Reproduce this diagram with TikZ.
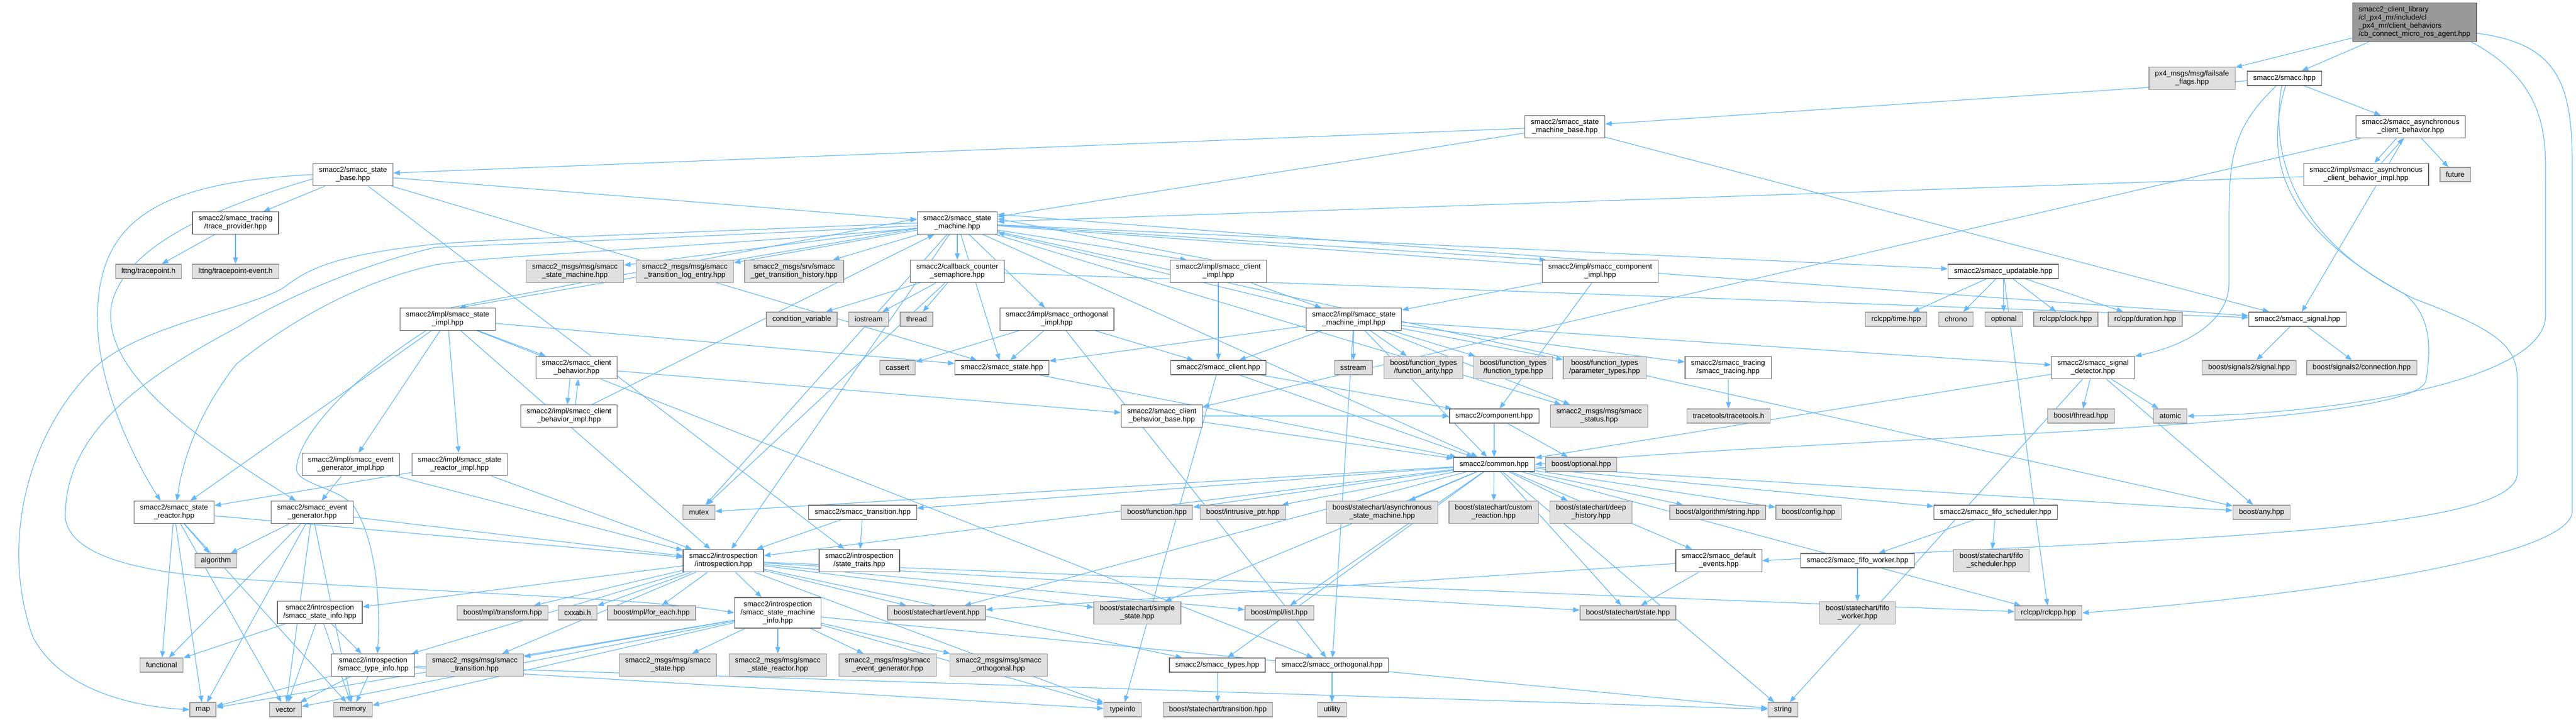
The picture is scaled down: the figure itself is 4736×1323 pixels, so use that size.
\documentclass[tikz,border=0pt]{standalone}
\usepackage{fontspec}
\setmainfont{Liberation Sans}
\usetikzlibrary{arrows.meta}
\pgfdeclarelayer{bg}
\pgfsetlayers{bg,main}
\definecolor{edgec}{HTML}{63B8FF}
\definecolor{wbord}{HTML}{666666}
\definecolor{gbord}{HTML}{999999}
\definecolor{gfill}{HTML}{E0E0E0}
\definecolor{rfill}{HTML}{999999}
\begin{document}
\begin{tikzpicture}[x=1pt,y=-1pt,
  nb/.style={draw, line width=1.3pt, inner xsep=11pt, inner ysep=0pt, align=center, font=\fontsize{13.4}{15}\selectfont},
  wn/.style={nb, fill=white, draw=wbord},
  gn/.style={nb, fill=gfill, draw=gbord},
  rn/.style={nb, fill=rfill, draw=wbord, align=left},
  l1/.style={minimum height=26pt},
  l2/.style={minimum height=41pt},
  l3/.style={minimum height=56pt},
  l4/.style={minimum height=71pt},
  e/.style={draw=edgec, line width=1.2pt, -{Triangle[length=12pt,width=9pt]}}
]
\useasboundingbox (0,0) rectangle (4736,1323);
% row 0-4
\node[rn,l4] (root) at (4439,41) {smacc2\_client\_library\\/cl\_px4\_mr/include/cl\\\_px4\_mr/client\_behaviors\\/cb\_connect\_micro\_ros\_agent.hpp};
\node[gn,l2] (px4) at (4030,144) {px4\_msgs/msg/failsafe\\\_flags.hpp};
\node[wn,l1] (smacc) at (4200,144) {smacc2/smacc.hpp};
\node[wn,l2] (smb) at (2877,233) {smacc2/smacc\_state\\\_machine\_base.hpp};
\node[wn,l2] (acb) at (4432,233) {smacc2/smacc\_asynchronous\\\_client\_behavior.hpp};
\node[wn,l2] (sbase) at (649,321) {smacc2/smacc\_state\\\_base.hpp};
\node[wn,l2] (acbi) at (4350,321) {smacc2/impl/smacc\_asynchronous\\\_client\_behavior\_impl.hpp};
\node[gn,l1] (future) at (4514,321) {future};
\node[wn,l2] (tprov) at (433,410) {smacc2/smacc\_tracing\\/trace\_provider.hpp};
\node[wn,l2] (sm) at (1760,410) {smacc2/smacc\_state\\\_machine.hpp};
% row 5
\node[gn,l1] (ltt) at (273,499) {lttng/tracepoint.h};
\node[gn,l1] (ltte) at (433,499) {lttng/tracepoint-event.h};
\node[gn,l2] (msgsm) at (1057,499) {smacc2\_msgs/msg/smacc\\\_state\_machine.hpp};
\node[gn,l2] (msgtle) at (1259,499) {smacc2\_msgs/msg/smacc\\\_transition\_log\_entry.hpp};
\node[gn,l2] (srvgth) at (1460,499) {smacc2\_msgs/srv/smacc\\\_get\_transition\_history.hpp};
\node[wn,l2] (ccs) at (1760,499) {smacc2/callback\_counter\\\_semaphore.hpp};
\node[wn,l2] (clim) at (2240,499) {smacc2/impl/smacc\_client\\\_impl.hpp};
\node[wn,l2] (coim) at (2942,499) {smacc2/impl/smacc\_component\\\_impl.hpp};
\node[wn,l1] (upd) at (3683,499) {smacc2/smacc\_updatable.hpp};
% row 6
\node[wn,l2] (stim) at (823,587) {smacc2/impl/smacc\_state\\\_impl.hpp};
\node[gn,l1] (cv) at (1474,587) {condition\_variable};
\node[gn,l1] (iostr) at (1597,587) {iostream};
\node[gn,l1] (thr) at (1685,587) {thread};
\node[wn,l2] (orim) at (1943,587) {smacc2/impl/smacc\_orthogonal\\\_impl.hpp};
\node[wn,l2] (smim) at (2489,587) {smacc2/impl/smacc\_state\\\_machine\_impl.hpp};
\node[gn,l1] (rtime) at (3486,587) {rclcpp/time.hpp};
\node[gn,l1] (chrono) at (3596,587) {chrono};
\node[gn,l1] (optional) at (3684,587) {optional};
\node[gn,l1] (rclock) at (3798,587) {rclcpp/clock.hpp};
\node[gn,l1] (rdur) at (3944,587) {rclcpp/duration.hpp};
\node[wn,l1] (sig) at (4224,587) {smacc2/smacc\_signal.hpp};
% row 7
\node[wn,l2] (cb) at (1060,676) {smacc2/smacc\_client\\\_behavior.hpp};
\node[gn,l1] (cassert) at (1650,676) {cassert};
\node[wn,l1] (sst) at (1842,676) {smacc2/smacc\_state.hpp};
\node[wn,l1] (cli) at (2240,676) {smacc2/smacc\_client.hpp};
\node[gn,l1] (sstream) at (2488,676) {sstream};
\node[gn,l2] (fa) at (2617,676) {boost/function\_types\\/function\_arity.hpp};
\node[gn,l2] (ft) at (2782,676) {boost/function\_types\\/function\_type.hpp};
\node[gn,l2] (pt) at (2950,676) {boost/function\_types\\/parameter\_types.hpp};
\node[wn,l2] (trc) at (3177,676) {smacc2/smacc\_tracing\\/smacc\_tracing.hpp};
\node[wn,l2] (sd) at (3848,676) {smacc2/smacc\_signal\\\_detector.hpp};
\node[gn,l1] (s2s) at (4135,676) {boost/signals2/signal.hpp};
\node[gn,l1] (s2c) at (4342,676) {boost/signals2/connection.hpp};
% row 8
\node[wn,l2] (cbi) at (1046,765) {smacc2/impl/smacc\_client\\\_behavior\_impl.hpp};
\node[wn,l2] (cbb) at (2136,765) {smacc2/smacc\_client\\\_behavior\_base.hpp};
\node[wn,l1] (comp) at (2747,765) {smacc2/component.hpp};
\node[gn,l2] (msgst) at (2940,765) {smacc2\_msgs/msg/smacc\\\_status.hpp};
\node[gn,l1] (tt) at (3178,765) {tracetools/tracetools.h};
\node[gn,l1] (bthr) at (3826,765) {boost/thread.hpp};
\node[gn,l1] (atomic) at (3990,765) {atomic};
% row 9
\node[wn,l2] (egim) at (645,854) {smacc2/impl/smacc\_event\\\_generator\_impl.hpp};
\node[wn,l2] (srim) at (845,854) {smacc2/impl/smacc\_state\\\_reactor\_impl.hpp};
\node[wn,l1] (common) at (2747,854) {smacc2/common.hpp};
\node[gn,l1] (bopt) at (2907,854) {boost/optional.hpp};
% row 10
\node[wn,l2] (sr) at (320,942) {smacc2/smacc\_state\\\_reactor.hpp};
\node[wn,l2] (eg) at (574,942) {smacc2/smacc\_event\\\_generator.hpp};
\node[gn,l1] (mutex) at (1285,942) {mutex};
\node[wn,l1] (trans) at (1586,942) {smacc2/smacc\_transition.hpp};
\node[gn,l1] (bfun) at (2127,942) {boost/function.hpp};
\node[gn,l1] (bip) at (2285,942) {boost/intrusive\_ptr.hpp};
\node[gn,l2] (basm) at (2541,942) {boost/statechart/asynchronous\\\_state\_machine.hpp};
\node[gn,l2] (bcr) at (2746,942) {boost/statechart/custom\\\_reaction.hpp};
\node[gn,l2] (bdh) at (2925,942) {boost/statechart/deep\\\_history.hpp};
\node[gn,l1] (bas) at (3158,942) {boost/algorithm/string.hpp};
\node[gn,l1] (bcfg) at (3325,942) {boost/config.hpp};
\node[wn,l1] (fs) at (3669,942) {smacc2/smacc\_fifo\_scheduler.hpp};
\node[gn,l1] (bany) at (4158,942) {boost/any.hpp};
% row 11
\node[gn,l1] (algo) at (397,1031) {algorithm};
\node[wn,l2] (intro) at (1330,1031) {smacc2/introspection\\/introspection.hpp};
\node[wn,l2] (stt) at (1580,1031) {smacc2/introspection\\/state\_traits.hpp};
\node[wn,l2] (de) at (3160,1031) {smacc2/smacc\_default\\\_events.hpp};
\node[wn,l1] (fw) at (3415,1031) {smacc2/smacc\_fifo\_worker.hpp};
\node[gn,l2] (bfs) at (3661,1031) {boost/statechart/fifo\\\_scheduler.hpp};
% row 12
\node[wn,l2] (sinfo) at (588,1126) {smacc2/introspection\\/smacc\_state\_info.hpp};
\node[gn,l1] (mtr) at (924,1127) {boost/mpl/transform.hpp};
\node[gn,l1] (cxx) at (1062,1127) {cxxabi.h};
\node[gn,l1] (mfe) at (1198,1127) {boost/mpl/for\_each.hpp};
\node[wn,l3] (smi) at (1430,1127) {smacc2/introspection\\/smacc\_state\_machine\\\_info.hpp};
\node[gn,l1] (bev) at (1722,1127) {boost/statechart/event.hpp};
\node[gn,l2] (bss) at (2091,1127) {boost/statechart/simple\\\_state.hpp};
\node[gn,l1] (mlist) at (2352,1127) {boost/mpl/list.hpp};
\node[gn,l1] (bst) at (2993,1127) {boost/statechart/state.hpp};
\node[gn,l2] (bfw) at (3415,1127) {boost/statechart/fifo\\\_worker.hpp};
\node[gn,l1] (rcl) at (3766,1127) {rclcpp/rclcpp.hpp};
% row 13
\node[gn,l1] (func) at (297,1223) {functional};
\node[wn,l2] (tinfo) at (686,1223) {smacc2/introspection\\/smacc\_type\_info.hpp};
\node[gn,l2] (mtrn) at (873,1223) {smacc2\_msgs/msg/smacc\\\_transition.hpp};
\node[gn,l2] (mst) at (1228,1223) {smacc2\_msgs/msg/smacc\\\_state.hpp};
\node[gn,l2] (msr) at (1430,1223) {smacc2\_msgs/msg/smacc\\\_state\_reactor.hpp};
\node[gn,l2] (meg) at (1632,1223) {smacc2\_msgs/msg/smacc\\\_event\_generator.hpp};
\node[gn,l2] (mor) at (1836,1223) {smacc2\_msgs/msg/smacc\\\_orthogonal.hpp};
\node[wn,l1] (types) at (2238,1223) {smacc2/smacc\_types.hpp};
\node[wn,l1] (orth) at (2449,1223) {smacc2/smacc\_orthogonal.hpp};
% row 14
\node[gn,l1] (map) at (373,1305) {map};
\node[gn,l1] (vector) at (525,1305) {vector};
\node[gn,l1] (memory) at (649,1305) {memory};
\node[gn,l1] (typeinfo) at (2064,1305) {typeinfo};
\node[gn,l1] (btr) at (2239,1305) {boost/statechart/transition.hpp};
\node[gn,l1] (utility) at (2449,1305) {utility};
\node[gn,l1] (string) at (3278,1305) {string};

\begin{pgfonlayer}{bg}
\foreach \a/\b in {root/px4, root/smacc,
  smacc/smb, smacc/acb,
  acb/future, acb/sig, acb/cbb, acbi/sm,
  smb/sbase, smb/sm, smb/sig,
  sbase/tprov, sbase/sm, sbase/stt, sbase/sst,
  tprov/ltt, tprov/ltte,
  sm/msgsm, sm/msgtle, sm/srvgth, sm/ccs, sm/orim, sm/upd, sm/sig, sm/intro, sm/sst, sm/mutex, sm/bany, sm/common, sm/msgst,
  ccs/cv, ccs/iostr, ccs/thr, ccs/mutex, ccs/sig,
  clim/cli, clim/smim,
  orim/cassert, orim/cli, orim/orth, orim/sst,
  coim/smim, coim/comp,
  upd/rtime, upd/chrono, upd/optional, upd/rclock, upd/rdur, upd/rcl,
  stim/egim, stim/srim, stim/cb, stim/sr, stim/intro, stim/orth, stim/sst,
  smim/sstream, smim/fa, smim/ft, smim/pt, smim/trc, smim/sd, smim/msgst, smim/sm, smim/common, smim/orth, smim/sst, smim/cli,
  cb/cbb, cbi/sm,
  cbb/common, cbb/comp,
  cli/typeinfo, cli/comp, cli/common,
  comp/common, comp/bopt,
  trc/tt,
  sd/bthr, sd/atomic, sd/common, sd/bany, sd/string,
  sig/s2s, sig/s2c,
  sst/common,
  common/basm, common/bcr, common/bdh, common/bas, common/bcfg, common/fs, common/bfun, common/bip, common/trans, common/mutex, common/bany, common/intro, common/de, common/mlist, common/rcl, common/types, common/bev, common/bss, common/bst, common/string,
  trans/stt, trans/intro,
  fs/fw, fs/bfs, fw/bfw,
  de/bev, de/bst,
  intro/mtr, intro/cxx, intro/mfe, intro/smi, intro/sinfo, intro/tinfo, intro/bev, intro/bss, intro/mlist, intro/bst, intro/rcl, intro/types, intro/mtrn, intro/typeinfo,
  smi/mst, smi/msr, smi/meg, smi/mor, smi/mtrn, smi/map, smi/vector, smi/memory, smi/string, smi/typeinfo,
  sinfo/func, sinfo/vector, sinfo/memory, sinfo/tinfo,
  tinfo/map, tinfo/vector, tinfo/memory, tinfo/typeinfo, tinfo/string,
  sr/algo, sr/func, sr/map, sr/vector, sr/memory, sr/intro,
  eg/algo, eg/func, eg/map, eg/vector, eg/memory, eg/intro,
  egim/eg, egim/intro, srim/sr, srim/intro,
  types/btr, orth/utility}
  {\draw[e] (\a) -- (\b);}
% paired (two-way) includes
\draw[e] ([xshift=-26pt]acb.south) -- ([xshift=15pt]acbi.north);
\draw[e] ([xshift=28pt]acbi.north) -- ([xshift=-13pt]acb.south);
\draw[e] ([xshift=-12pt]cb.south) -- ([xshift=-3pt]cbi.north);
\draw[e] ([xshift=12pt]cbi.north) -- ([xshift=3pt]cb.south);
\draw[e] (sm.-10) -- (clim.160);
\draw[e] (clim.120) -- (sm.6);
\draw[e] (sm.-3) -- (coim.168);
\draw[e] (coim.140) -- (sm.12);
\draw[e] (sm.188) -- (stim.45);
\draw[e] (stim.75) -- (sm.174);
% routed long connectors
\draw[e] (root.-10) .. controls (4700,80) and (4729,150) .. (4729,300) -- (4729,940) .. controls (4729,1020) and (4300,1090) .. (rcl.east);
\draw[e] ([xshift=-10pt]root.south east) .. controls (4680,150) and (4680,250) .. (4680,320) -- (4680,580) .. controls (4680,700) and (4300,760) .. (atomic.east);
\draw[e] ([xshift=-15pt]smacc.south) .. controls (4110,230) and (4098,280) .. (4098,400) -- (4098,520) .. controls (4098,600) and (4000,640) .. (sd.north east);
\draw[e] ([xshift=-5pt]smacc.south) .. controls (4170,300) and (4230,450) .. (4440,550) .. controls (4600,610) and (4628,640) .. (4628,700) -- (4628,870) .. controls (4628,980) and (4000,990) .. (de.east);
\draw[e] ([xshift=2pt]smacc.south) .. controls (4160,300) and (4200,420) .. (4420,540) .. controls (4470,580) and (4470,640) .. (4460,700) .. controls (4440,790) and (3400,800) .. (common.east);
\draw[e] (sbase.west) .. controls (300,335) and (190,400) .. (180,560) .. controls (170,700) and (250,850) .. ([xshift=-25pt]sr.north);
\draw[e] ([yshift=-8pt]sbase.west) .. controls (400,380) and (230,450) .. (205,560) .. controls (185,680) and (350,800) .. ([xshift=-30pt]eg.north);
\draw[e] (sm.west) .. controls (1200,430) and (900,440) .. (800,449) .. controls (600,470) and (560,500) .. (520,530) .. controls (450,570) and (250,600) .. (170,680) .. controls (50,800) and (0,1000) .. (60,1170) .. controls (110,1270) and (250,1300) .. (map.west);
\draw[e] ([yshift=-5pt]sm.west) .. controls (1200,440) and (900,450) .. (800,455) .. controls (650,490) and (500,560) .. (440,600) .. controls (250,700) and (120,800) .. (120,950) .. controls (125,1020) and (250,1050) .. (400,1062) .. controls (800,1090) and (1200,1100) .. (smi.west);
\draw[e] ([yshift=-10pt]sm.west) .. controls (1200,460) and (900,470) .. (800,487) .. controls (650,520) and (520,600) .. (434,670) .. controls (380,740) and (340,820) .. ([xshift=5pt]sr.north);
\draw[e] ([xshift=-40pt]stim.south) .. controls (640,700) and (550,800) .. (545,860) .. controls (542,890) and (620,895) .. (650,930) .. controls (690,990) and (700,1100) .. ([xshift=8pt]tinfo.north);
\end{pgfonlayer}
\end{tikzpicture}
\end{document}
